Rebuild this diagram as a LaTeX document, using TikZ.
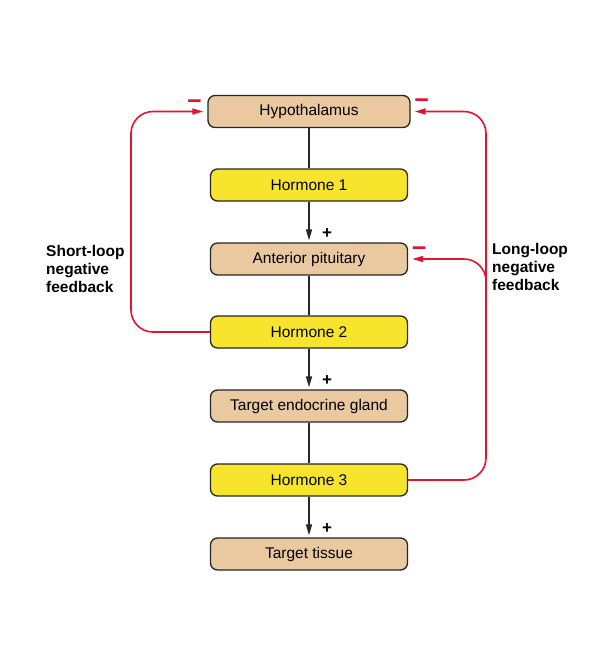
\documentclass[tikz,border=0pt]{standalone}
\usepackage{fontspec}
\setmainfont{Liberation Sans}
\usetikzlibrary{arrows.meta,positioning}
\definecolor{organtan}{RGB}{234,201,160}
\definecolor{hormyellow}{RGB}{247,229,45}
\definecolor{fbred}{RGB}{222,22,48}

\begin{document}
\begin{tikzpicture}[x=1pt,y=-1pt,
  organ/.style={draw=black!85,line width=1.3pt,rounded corners=7pt,fill=organtan,
    minimum width=197pt,minimum height=32pt,inner sep=0pt,font=\fontsize{15.5}{18}\selectfont},
  hormone/.style={organ,fill=hormyellow},
  link/.style={line width=1.4pt,black!85},
  stim/.style={link,-{Triangle[length=11pt,width=6pt]},shorten >=2pt},
  fb/.style={line width=1.6pt,fbred,rounded corners=22pt,-{Triangle[length=11pt,width=6pt]},shorten >=4pt},
  plus/.style={font=\bfseries\fontsize{17}{17}\selectfont,inner sep=0pt},
  minus/.style={fbred,font=\bfseries\fontsize{25}{25}\selectfont,inner sep=0pt},
  looplabel/.style={font=\bfseries\fontsize{15.5}{18}\selectfont,align=left,anchor=north west,inner sep=0pt}]
\fill[white] (0,0) rectangle (591,665);
\useasboundingbox (0,0) rectangle (591,665);
% boxes, top to bottom
\node (hyp) [organ,minimum width=202pt] at (309,111.5) {Hypothalamus};
\node (h1) [hormone] at (309,185) {Hormone 1};
\node (ant) [organ] at (309,259) {Anterior pituitary};
\node (h2) [hormone] at (309,332) {Hormone 2};
\node (gland) [organ] at (309,406) {Target endocrine gland};
\node (h3) [hormone] at (309,480) {Hormone 3};
\node (tissue) [organ] at (309,554) {Target tissue};
%
\draw[link] (hyp) -- (h1);
\draw[stim] (h1) -- (ant);
\draw[link] (ant) -- (h2);
\draw[stim] (h2) -- (gland);
\draw[link] (gland) -- (h3);
\draw[stim] (h3) -- (tissue);
\node[plus] at ([xshift=18pt,yshift=9pt]ant.north) {+};
\node[plus] at ([xshift=18pt,yshift=9pt]gland.north) {+};
\node[plus] at ([xshift=18pt,yshift=9pt]tissue.north) {+};
% feedback loops
\coordinate (shortx) at (131,111.5);
\coordinate (longx) at (486,111.5);
\coordinate (branch) at (486,300);
\draw[fb] (h2.west) -| (shortx) -- (hyp.west);
\draw[fb] (h3.east) -| (longx) -- (hyp.east);
\draw[fb] (branch) |- (ant.east);
\node[minus] at ([xshift=-13pt,yshift=7pt]hyp.west) {−};
\node[minus] at ([xshift=11pt,yshift=8pt]hyp.east) {−};
\node[minus] at ([xshift=11pt,yshift=7pt]ant.east) {−};
%
\node[looplabel] (shortlbl) at (46,245) {Short-loop\\negative\\feedback};
\node[looplabel] (longlbl) at (492,243) {Long-loop\\negative\\feedback};
\end{tikzpicture}
\end{document}
